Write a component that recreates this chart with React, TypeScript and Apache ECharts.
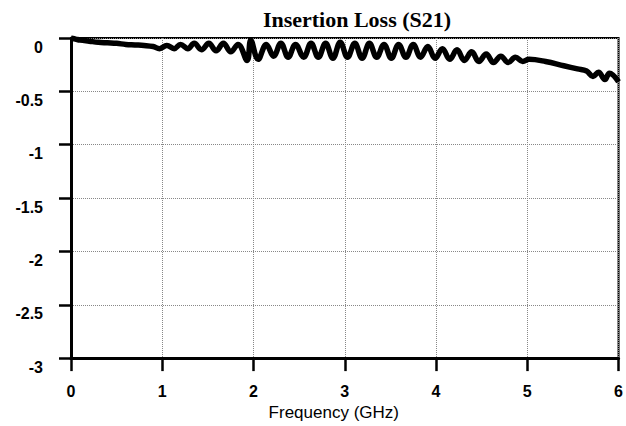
import React, { useEffect, useRef } from "react";
import * as echarts from "echarts";

const freqGHz = [
  0, 0.05, 0.1, 0.2, 0.3, 0.4, 0.5, 0.6, 0.7, 0.8, 0.9, 0.97, 1.05, 1.13, 1.2, 1.28, 1.35, 1.43, 1.51,
  1.59, 1.67, 1.75, 1.83, 1.93, 1.97, 2.05, 2.14, 2.22, 2.3, 2.38, 2.46, 2.55, 2.63, 2.71, 2.79, 2.87,
  2.95, 3.03, 3.11, 3.19, 3.27, 3.35, 3.43, 3.51, 3.59, 3.67, 3.75, 3.83, 3.91, 3.99, 4.07, 4.15, 4.23,
  4.31, 4.39, 4.47, 4.55, 4.63, 4.71, 4.79, 4.87, 4.95, 5.02, 5.2, 5.4, 5.55, 5.65, 5.72, 5.78, 5.85,
  5.9, 6.0,
];
const s21dB = [
  0, -0.01, -0.02, -0.03, -0.04, -0.045, -0.05, -0.06, -0.065, -0.07, -0.08, -0.1, -0.07, -0.1, -0.06,
  -0.1, -0.05, -0.11, -0.05, -0.12, -0.05, -0.13, -0.06, -0.21, -0.02, -0.2, -0.06, -0.17, -0.05, -0.18,
  -0.06, -0.18, -0.05, -0.18, -0.05, -0.19, -0.04, -0.18, -0.05, -0.19, -0.05, -0.18, -0.06, -0.19,
  -0.06, -0.18, -0.06, -0.18, -0.08, -0.19, -0.1, -0.2, -0.11, -0.21, -0.13, -0.22, -0.15, -0.23,
  -0.17, -0.23, -0.18, -0.22, -0.2, -0.22, -0.26, -0.29, -0.31, -0.36, -0.32, -0.39, -0.33, -0.41,
];
const xTicks = [0, 1, 2, 3, 4, 5, 6];
const yTicks = [0, -0.5, -1, -1.5, -2, -2.5, -3];
const titleText = "Insertion Loss (S21)";
const xName = "Frequency (GHz)";

export default function App() {
  const ref = useRef<HTMLDivElement>(null);
  useEffect(() => {
    if (!ref.current) return;
    const chart = echarts.init(ref.current, null, { renderer: "svg" });
    const data = freqGHz.map((f, i) => [f, s21dB[i]]);
    chart.setOption({
      animation: false,
      backgroundColor: "#fff",
      title: {
        text: titleText,
        left: 352,
        textAlign: "center",
        top: 3,
        textStyle: { fontFamily: "Liberation Serif", fontWeight: "bold", fontSize: 22, color: "#000" },
      },
      grid: {
        left: 71,
        right: 4,
        top: 38,
        bottom: 67,
        show: true,
        borderColor: "#000",
        borderWidth: 2,
        backgroundColor: "transparent",
      },
      xAxis: {
        type: "value",
        min: xTicks[0],
        max: xTicks[xTicks.length - 1],
        interval: 1,
        name: xName,
        nameLocation: "middle",
        nameGap: 41,
        nameTextStyle: {
          fontFamily: "Liberation Sans",
          fontSize: 17,
          color: "#000",
          padding: [0, 22, 0, 0],
        },
        axisLine: { show: true, onZero: false, lineStyle: { color: "#000", width: 3 } },
        axisTick: { show: true, inside: false, length: 13, lineStyle: { color: "#000", width: 2.5 } },
        axisLabel: {
          margin: 25,
          fontFamily: "Liberation Sans",
          fontWeight: "bold",
          fontSize: 16,
          color: "#000",
          lineHeight: 16,
        },
        splitLine: { show: true, lineStyle: { color: "#888", type: "dotted", width: 1 } },
      },
      yAxis: {
        type: "value",
        min: yTicks[yTicks.length - 1],
        max: yTicks[0],
        interval: 0.5,
        axisLine: { show: true, onZero: false, lineStyle: { color: "#000", width: 3 } },
        axisTick: { show: true, inside: false, length: 12, lineStyle: { color: "#000", width: 2.5 } },
        axisLabel: {
          margin: 28,
          fontFamily: "Liberation Sans",
          fontWeight: "bold",
          fontSize: 16,
          color: "#000",
          lineHeight: 16,
          verticalAlign: "top",
          padding: [1, 0, 0, 0],
        },
        splitLine: { show: true, lineStyle: { color: "#888", type: "dotted", width: 1 } },
      },
      series: [
        {
          type: "line",
          data,
          smooth: 0.4,
          showSymbol: false,
          symbol: "none",
          lineStyle: { color: "#000", width: 5.5 },
          clip: true,
        },
      ],
    });
    return () => chart.dispose();
  }, []);
  return (
    <div
      ref={ref}
      style={{ position: "fixed", left: 0, top: 0, width: 626, height: 426, background: "#fff" }}
    />
  );
}
